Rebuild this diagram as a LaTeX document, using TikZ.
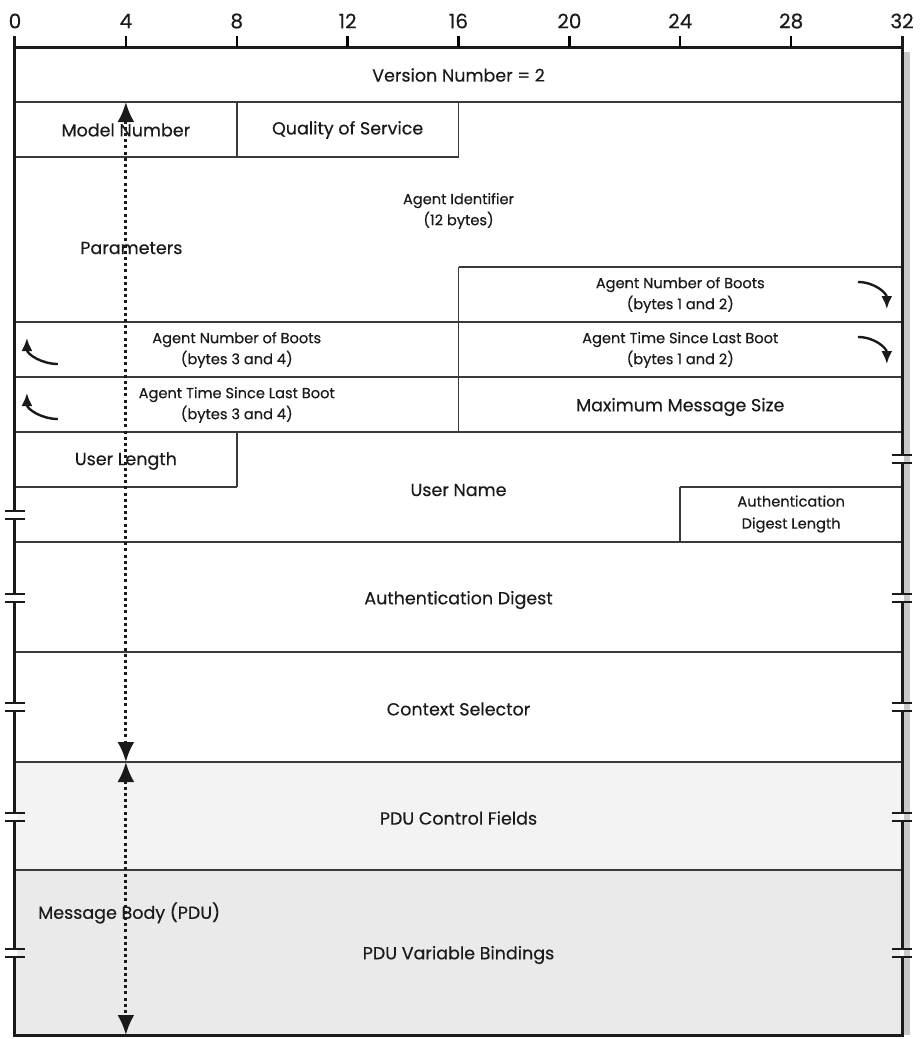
\documentclass[tikz,border=0pt]{standalone}
\usepackage{fontspec}
\setmainfont{Poppins}[FakeBold=0.35]
\usetikzlibrary{arrows.meta}
\definecolor{Ink}{HTML}{1A1A1A}
\definecolor{RuleGrey}{HTML}{3A3A3A}
\definecolor{ControlFill}{HTML}{F3F3F3}
\definecolor{BindFill}{HTML}{EAEAEA}
\definecolor{ShadowGrey}{HTML}{C9C9C9}
\begin{document}
\begin{tikzpicture}[x=27.72pt,y=-1pt,>=Latex,every node/.style={text=Ink,inner sep=0pt},
  field/.style={font=\fontsize{17.5}{20}\selectfont,align=center},
  smallfield/.style={font=\fontsize{14.6}{21}\selectfont,align=center},
  bitnum/.style={font=\fontsize{20}{22}\selectfont},
  cell/.style={line width=1.6pt,draw=RuleGrey},
  frame/.style={line width=3pt,draw=Ink},
  gapmark/.style={line width=2.2pt,draw=Ink},
  spanarrow/.style={line width=3pt,draw=Ink,dash pattern=on 3pt off 3.2pt,{Latex[length=20pt,width=17pt]}-{Latex[length=20pt,width=17pt]}},
  wraparrow/.style={line width=2.4pt,draw=Ink,-{Latex[length=13pt,width=11pt]}}]
\useasboundingbox[fill=white] (-0.5411,0) rectangle (32.6118,1039);
% shading of the message body and the shadow strip
\fill[ShadowGrey] (32.08,52) rectangle (32.3,1035);
\fill[ControlFill] (0,762) rectangle (32,870);\fill[BindFill] (0,870) rectangle (32,1035);
% bit ruler
\draw[frame] (0,47)--(32,47);
\foreach \b in {0,4,...,32}{\draw[line width=2.4pt] (\b,47)--(\b,36);\node[bitnum] (bit\b) at (\b,21){\b};}
% field grid
\draw[cell] (0,102)--(32,102) (0,157)--(16,157) (16,267)--(32,267) (0,322)--(32,322) (0,377)--(32,377) (0,432)--(32,432);
\draw[cell] (0,487)--(8,487) (24,487)--(32,487) (0,542)--(32,542) (0,652)--(32,652) (0,762)--(32,762) (0,870)--(32,870);
\draw[cell] (8,102)--(8,157) (16,102)--(16,157) (16,267)--(16,432) (8,432)--(8,487) (24,487)--(24,542);
\draw[frame] (0,36)--(0,1035)--(32,1035)--(32,36);
% breaks in the frame
\foreach \y in {515,598,707,817,953}{\fill[white] (-0.08,\y-3) rectangle (0.08,\y+3);\draw[gapmark] (-0.36,\y-4.2)--(0.36,\y-4.2) (-0.36,\y+4.2)--(0.36,\y+4.2);}
\foreach \y in {459,598,707,817,953}{\fill[white] (31.92,\y-3) rectangle (32.08,\y+3);\draw[gapmark] (31.64,\y-4.2)--(32.36,\y-4.2) (31.64,\y+4.2)--(32.36,\y+4.2);}
% field labels
\node[field] (version) at (16,75){Version Number = 2};
\node[field] (model) at (4,130){Model Number};\node[field] (qos) at (12,130){Quality of Service};
\node[smallfield] (agentid) at (16,211){Agent Identifier\\(12 bytes)};
\node[field,anchor=west] (params) at (2.35,248){Parameters};
\node[smallfield] (bootshi) at (24,295){Agent Number of Boots\\(bytes 1 and 2)};
\node[smallfield] (bootslo) at (8,350){Agent Number of Boots\\(bytes 3 and 4)};
\node[smallfield] (timehi) at (24,350){Agent Time Since Last Boot\\(bytes 1 and 2)};
\node[smallfield] (timelo) at (8,405){Agent Time Since Last Boot\\(bytes 3 and 4)};
\node[field] (maxsize) at (24,407){Maximum Message Size};
\node[field] (userlen) at (4,461){User Length};\node[field] (username) at (16,490){User Name};
\node[smallfield,font=\fontsize{14.6}{22}\selectfont] (digestlen) at (28,514){Authentication\\Digest Length};
\node[field] (digest) at (16,600){Authentication Digest};
\node[field] (context) at (16,709){Context Selector};
\node[field] (pductl) at (16,818){PDU Control Fields};
\node[field,anchor=west] (msgbody) at (0.83,913){Message Body (PDU)};
\node[field] (bindings) at (16,955){PDU Variable Bindings};
% wrap-around arrows
\foreach \y in {282,337}\draw[wraparrow] (30.41,\y) .. controls (31.0,\y) and (31.45,\y+11) .. (31.45,\y+27);
\foreach \y in {364,419}\draw[wraparrow] (1.55,\y) .. controls (0.95,\y) and (0.43,\y-10) .. (0.43,\y-26);
% extent of parameters and message body
\coordinate (ParamTop) at (4,102);\coordinate (ParamEnd) at (4,762);\coordinate (PduEnd) at (4,1035);
\draw[spanarrow] (ParamTop)--(ParamEnd);\draw[spanarrow] (ParamEnd)--(PduEnd);
\end{tikzpicture}
\end{document}
